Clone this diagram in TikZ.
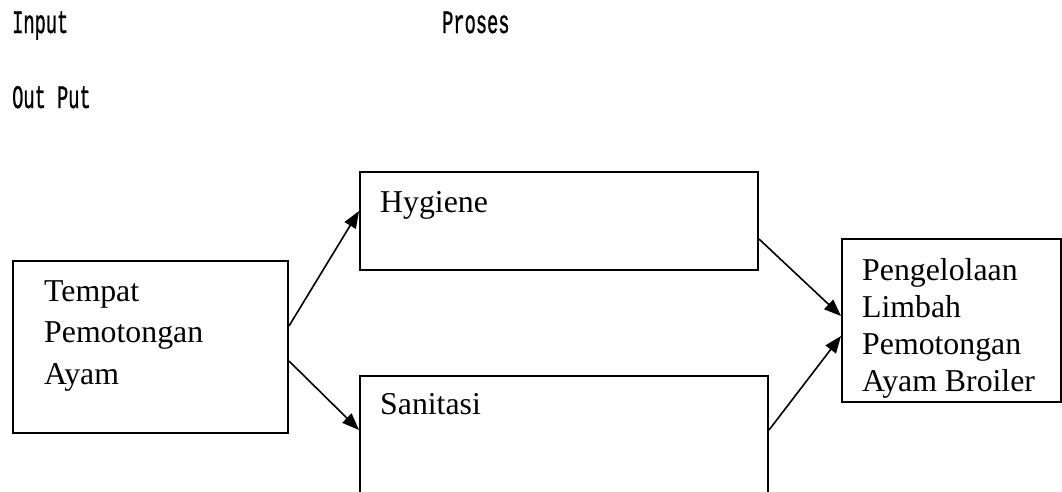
\documentclass[tikz,border=0pt]{standalone}
\usepackage{fontspec}
\setmainfont{Liberation Serif}
\newfontfamily\headfont[FakeBold=1.2]{Liberation Mono}
\usetikzlibrary{arrows.meta, positioning}
\newcommand{\hdrtext}[1]{\scalebox{1}[1.75]{#1}}

\begin{document}
\begin{tikzpicture}[x=1pt, y=-1pt]
% Define styles
\tikzstyle{box} = [rectangle, draw, line width=2pt, anchor=north west, inner sep=0pt]
\tikzstyle{boxtext} = [inner sep=0pt, align=left, font=\fontsize{31.8}{41.5}\selectfont]
\tikzstyle{head} = [anchor=base west, inner sep=0pt, font=\headfont\fontsize{18.7}{20}\selectfont]
\tikzstyle{arrow} = [line width=1.6pt, -{Triangle[length=17pt, width=13pt]}]

\useasboundingbox (0,0) rectangle (1062,491);

% Headings
\node (input) [head] at (12,33) {\hdrtext{Input}};
\node (proses) [head] at (442,33) {\hdrtext{Proses}};
\node (output) [head] at (12,108) {\hdrtext{Out Put}};

% Input
\node (src) [box, minimum width=275pt, minimum height=172pt] at (12,260) {};
\node (srctext) [boxtext, below right=20pt and 32pt of src.north west] {Tempat\\Pemotongan\\Ayam};

% Proses
\node (hyg) [box, minimum width=398pt, minimum height=98pt] at (359,171) {};
\node (hygtext) [boxtext, below right=20pt and 21pt of hyg.north west] {Hygiene};
\node (san) [box, minimum width=408pt, minimum height=130pt] at (359,375) {};
\node (santext) [boxtext, below right=18pt and 21pt of san.north west] {Sanitasi};

% Output
\node (out) [box, minimum width=219pt, minimum height=163pt] at (841,238) {};
\node (outtext) [boxtext, font=\fontsize{31.8}{37}\selectfont, below right=20pt and 21pt of out.north west] {Pengelolaan\\Limbah\\Pemotongan\\Ayam Broiler};

% Arrows
\draw [arrow] ([yshift=21pt]src.east) -- ([yshift=10pt]hyg.west);
\draw [arrow] ([yshift=-14pt]src.east) -- ([yshift=-55pt]san.north west);
\draw [arrow] ([yshift=-18pt]hyg.east) -- ([yshift=4.5pt]out.west);
\draw [arrow] ([yshift=-55pt]san.north east) -- ([yshift=-15.5pt]out.west);
\end{tikzpicture}
\end{document}
